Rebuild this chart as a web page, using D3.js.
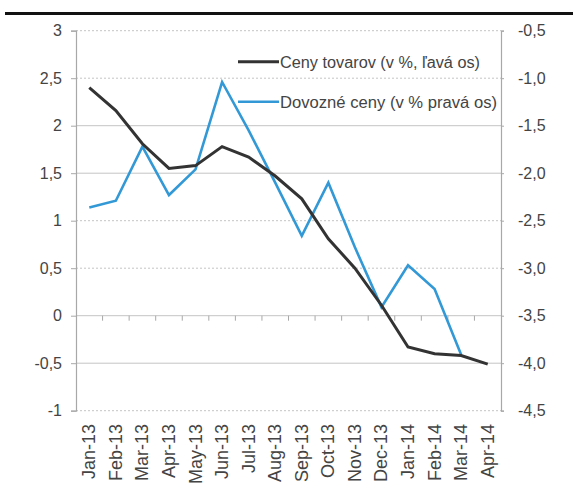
<!DOCTYPE html>
<html><head><meta charset="utf-8">
<script src="https://cdn.jsdelivr.net/npm/d3@7"></script>
<style>
body{margin:0;background:#fff;}
svg{display:block;font-family:"Liberation Sans",Arial,sans-serif;}
</style></head>
<body>
<script>
const categories = ["Jan-13","Feb-13","Mar-13","Apr-13","May-13","Jun-13","Jul-13","Aug-13","Sep-13","Oct-13","Nov-13","Dec-13","Jan-14","Feb-14","Mar-14","Apr-14"];
const cenyTovarov = [2.40,2.16,1.81,1.55,1.58,1.78,1.67,1.47,1.23,0.81,0.50,0.11,-0.33,-0.40,-0.42,-0.51];
const dovozneCeny = [-2.36,-2.29,-1.72,-2.23,-1.96,-1.04,-1.55,-2.10,-2.66,-2.10,-2.78,-3.41,-2.97,-3.22,-3.91,null];
const leftTicks = [3,2.5,2,1.5,1,0.5,0,-0.5,-1];
const leftTickLabels = ["3","2,5","2","1,5","1","0,5","0","-0,5","-1"];
const rightTicks = [-0.5,-1,-1.5,-2,-2.5,-3,-3.5,-4,-4.5];
const rightTickLabels = ["-0,5","-1,0","-1,5","-2,0","-2,5","-3,0","-3,5","-4,0","-4,5"];
const legendLabels = ["Ceny tovarov (v %, ľavá os)","Dovozné ceny (v % pravá os)"];
const solidGrid = [2,1.5,0,-0.5];

(function(){
const W=578,H=488;
const svg=d3.select("body").append("svg").attr("width",W).attr("height",H);
const pL=76,pR=501,pT=30.7,pB=410.7;
const x=d3.scaleBand().domain(categories).range([pL,pR]);
const yL=d3.scaleLinear().domain([-1,3]).range([pB,pT]);
const yR=d3.scaleLinear().domain([-4.5,-0.5]).range([pB,pT]);

// top rule
svg.append("line").attr("x1",5).attr("x2",573).attr("y1",13.5).attr("y2",13.5).attr("stroke","#111").attr("stroke-width",3);

// grid
svg.append("g").selectAll("line").data(leftTicks).join("line")
  .attr("x1",pL).attr("x2",pR).attr("y1",d=>yL(d)).attr("y2",d=>yL(d))
  .attr("stroke","#c4c4c4").attr("stroke-width",1)
  .attr("stroke-dasharray",d=>solidGrid.includes(d)?null:"2,2");

// left axis
const axL=svg.append("g").attr("transform",`translate(${pL},0)`)
  .call(d3.axisLeft(yL).tickValues(leftTicks).tickFormat((d,i)=>leftTickLabels[i]).tickSize(5).tickPadding(9));
// right axis
const axR=svg.append("g").attr("transform",`translate(${pR},0)`)
  .call(d3.axisRight(yR).tickValues(rightTicks).tickFormat((d,i)=>rightTickLabels[i]).tickSize(3).tickPadding(14));
[axL,axR].forEach(a=>{
  a.select(".domain").attr("stroke","#a8a8a8").attr("stroke-width",1.2);
  a.selectAll(".tick line").attr("stroke","#a8a8a8");
  a.selectAll(".tick text").attr("fill","#444").style("font-size","16px").style("font-family","'Liberation Sans',Arial,sans-serif");
});

// zero axis with category ticks
const zeroG=svg.append("g").attr("transform",`translate(0,${yL(0)})`);
zeroG.selectAll("line").data(categories.slice(1)).join("line")
  .attr("x1",d=>x(d)).attr("x2",d=>x(d)).attr("y1",0).attr("y2",5)
  .attr("stroke","#a8a8a8");

// x labels at bottom
svg.append("g").selectAll("text").data(categories).join("text")
  .attr("transform",d=>`translate(${x(d)+x.bandwidth()/2+6},424) rotate(-90)`)
  .attr("text-anchor","end").attr("fill","#444")
  .style("font-size","18px").text(d=>d);

// lines
const cx=d=>x(d)+x.bandwidth()/2;
const lineL=d3.line().x((d,i)=>cx(categories[i])).y(d=>yL(d));
const lineR=d3.line().defined(d=>d!==null).x((d,i)=>cx(categories[i])).y(d=>yR(d));
svg.append("path").datum(dovozneCeny).attr("d",lineR).attr("fill","none")
  .attr("stroke","#3399d6").attr("stroke-width",2.6).attr("stroke-linejoin","miter");
svg.append("path").datum(cenyTovarov).attr("d",lineL).attr("fill","none")
  .attr("stroke","#333").attr("stroke-width",3).attr("stroke-linejoin","miter");

// legend
const leg=[{c:"#333",w:3,y:61.7,tl:200},{c:"#3399d6",w:2.6,y:101.7,tl:217}];
leg.forEach((l,i)=>{
  svg.append("line").attr("x1",238).attr("x2",279).attr("y1",l.y).attr("y2",l.y).attr("stroke",l.c).attr("stroke-width",l.w);
  svg.append("text").attr("x",280).attr("y",l.y+6).attr("fill","#444")
    .style("font-size","16px").attr("textLength",l.tl).attr("lengthAdjust","spacingAndGlyphs")
    .text(legendLabels[i]);
});
})();
</script>
</body></html>
